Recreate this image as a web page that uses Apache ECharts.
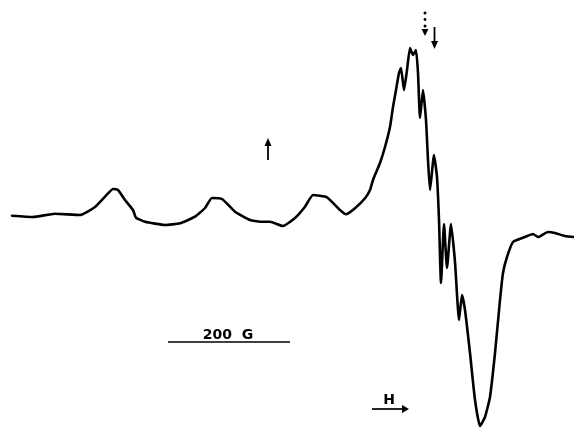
<!DOCTYPE html>
<html>
<head>
<meta charset="utf-8">
<script src="https://cdn.jsdelivr.net/npm/echarts@6/dist/echarts.min.js"></script>
<style>
  html, body { margin: 0; padding: 0; background: #fff; }
  #chart { width: 574px; height: 428px; }
</style>
</head>
<body>
<div id="chart"></div>
<script>
// field position (arbitrary units, 122 units = 200 G) and derivative signal (baseline ~ 0)
const field = [
  12, 33, 55, 80, 95, 105, 113, 118, 125, 133, 136, 145, 165, 180,
  195, 205, 212, 222, 235, 250, 260, 270, 283, 295, 305, 313, 327, 340,
  346, 355, 365, 370, 373, 380, 385, 390, 393, 396, 399, 401, 404, 407,
  410, 413, 416, 418, 420, 423, 426, 428, 430, 434, 437, 439, 441, 444,
  447, 451, 455, 459, 462, 465, 470, 475, 480, 485, 490, 495, 500, 503,
  507, 513, 525, 533, 538, 548, 555, 565, 574
];
const signal = [
  -0.7, -2, 1.3, 0, 8, 18.3, 26, 25, 15, 5, -2.7, -6.7, -10, -8.3,
  -1.7, 7, 17, 16, 3.3, -5, -6.7, -6.7, -11, -3, 8.3, 20, 17.7, 5,
  0.7, 6.7, 16.7, 25, 35, 52, 68, 88, 108, 125, 142, 147, 125, 145,
  167, 160, 165, 142, 97, 125, 95, 55, 25, 60, 38, -5, -68, -9,
  -53, -9, -47, -105, -80, -95, -138, -185, -211, -202, -182, -138, -85, -58,
  -42, -27, -22, -19, -22, -17, -18, -21, -22
];

const chart = echarts.init(document.getElementById('chart'), null, { renderer: 'canvas' });

const ink = '#000';
const font = 'bold 14px "DejaVu Sans"';

chart.setOption({
  animation: false,
  backgroundColor: '#fff',
  grid: { left: 0, right: 0, top: 0, bottom: 0 },
  xAxis: { type: 'value', min: 0, max: 574, show: false },
  yAxis: { type: 'value', min: -213, max: 215, show: false },
  series: [{
    type: 'line',
    data: field.map((f, i) => [f, signal[i]]),
    showSymbol: false,
    smooth: 0.15,
    lineStyle: { color: ink, width: 2.6, join: 'round', cap: 'round' }
  }],
  graphic: [
    // scale bar
    { type: 'line', shape: { x1: 168, y1: 342, x2: 290, y2: 342 }, style: { stroke: ink, lineWidth: 1.6 } },
    { type: 'text', x: 228, y: 342, style: { text: '200  G', font: font, fill: ink, textAlign: 'center', textVerticalAlign: 'bottom' } },
    // field direction
    { type: 'line', shape: { x1: 372, y1: 409, x2: 403, y2: 409 }, style: { stroke: ink, lineWidth: 1.7 } },
    { type: 'polygon', shape: { points: [[402, 405], [409, 409], [402, 413]] }, style: { fill: ink } },
    { type: 'text', x: 389, y: 407, style: { text: 'H', font: font, fill: ink, textAlign: 'center', textVerticalAlign: 'bottom' } },
    // up arrow
    { type: 'line', shape: { x1: 268, y1: 160, x2: 268, y2: 144 }, style: { stroke: ink, lineWidth: 1.8 } },
    { type: 'polygon', shape: { points: [[264.5, 146], [268, 138], [271.5, 146]] }, style: { fill: ink } },
    // dotted down arrow
    { type: 'circle', shape: { cx: 425, cy: 13, r: 1.5 }, style: { fill: ink } },
    { type: 'circle', shape: { cx: 425, cy: 19.5, r: 1.4 }, style: { fill: ink } },
    { type: 'circle', shape: { cx: 425, cy: 26, r: 1.5 }, style: { fill: ink } },
    { type: 'polygon', shape: { points: [[421.5, 29], [425, 36], [428.5, 29]] }, style: { fill: ink } },
    // solid down arrow
    { type: 'line', shape: { x1: 434.5, y1: 27, x2: 434.5, y2: 42 }, style: { stroke: ink, lineWidth: 1.8 } },
    { type: 'polygon', shape: { points: [[431, 41], [434.5, 49], [438, 41]] }, style: { fill: ink } }
  ]
});
</script>
</body>
</html>
